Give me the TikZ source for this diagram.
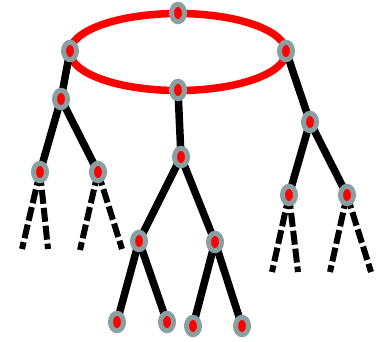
\documentclass[tikz,border=0pt]{standalone}
\usetikzlibrary{shapes.geometric,backgrounds}
\definecolor{nodegray}{RGB}{138,160,160}
\definecolor{ringred}{RGB}{255,0,0}
\tikzset{
  vert/.style={ellipse,fill=ringred,draw=nodegray,line width=5pt,minimum width=13pt,minimum height=17.5pt,inner sep=0pt},
  solidedge/.style={line width=7.5pt,black},
  dashedge/.style={line width=6pt,black,dash pattern=on 14pt off 4pt},
  ring/.style={line width=7.5pt,ringred}
}
\begin{document}
\begin{tikzpicture}[x=1pt,y=-1pt]
\useasboundingbox (0,0) rectangle (382,341);
% ring nodes
\coordinate (c) at (178,52);
\node[vert] (t) at (178,13) {};
\node[vert] (l) at (70,51) {};
\node[vert] (r) at (286,51) {};
\node[vert] (b) at (178,90) {};
% left subtree
\node[vert] (l1) at (61,99) {};
\node[vert] (l2a) at (40,172) {};
\node[vert] (l2b) at (98,172) {};
\coordinate (la1) at (22,249);
\coordinate (la2) at (48,249);
\coordinate (lb1) at (80,250);
\coordinate (lb2) at (122,249);
% middle subtree
\node[vert] (m1) at (181,157) {};
\node[vert] (m2a) at (139,241) {};
\node[vert] (m2b) at (215,242) {};
\node[vert] (m3a) at (117,322) {};
\node[vert] (m3b) at (167,322) {};
\node[vert] (m3c) at (193,326) {};
\node[vert] (m3d) at (242,326) {};
% right subtree
\node[vert] (r1) at (310,122) {};
\node[vert] (r2a) at (289,195) {};
\node[vert] (r2b) at (347,195) {};
\coordinate (ra1) at (272,272);
\coordinate (ra2) at (298,272);
\coordinate (rb1) at (330,272);
\coordinate (rb2) at (371,272);
\begin{pgfonlayer}{background}
\draw[ring] (c) ellipse [x radius=108, y radius=38.5];
\draw[solidedge] (l.center) -- (l1.center);
\draw[solidedge] (l1.center) -- (l2a.center);
\draw[solidedge] (l1.center) -- (l2b.center);
\draw[dashedge] (l2a.center) -- (la1);
\draw[dashedge] (l2a.center) -- (la2);
\draw[dashedge] (l2b.center) -- (lb1);
\draw[dashedge] (l2b.center) -- (lb2);
\draw[solidedge] (b.center) -- (m1.center);
\draw[solidedge] (m1.center) -- (m2a.center);
\draw[solidedge] (m1.center) -- (m2b.center);
\draw[solidedge] (m2a.center) -- (m3a.center);
\draw[solidedge] (m2a.center) -- (m3b.center);
\draw[solidedge] (m2b.center) -- (m3c.center);
\draw[solidedge] (m2b.center) -- (m3d.center);
\draw[solidedge] (r.center) -- (r1.center);
\draw[solidedge] (r1.center) -- (r2a.center);
\draw[solidedge] (r1.center) -- (r2b.center);
\draw[dashedge] (r2a.center) -- (ra1);
\draw[dashedge] (r2a.center) -- (ra2);
\draw[dashedge] (r2b.center) -- (rb1);
\draw[dashedge] (r2b.center) -- (rb2);
\end{pgfonlayer}
\end{tikzpicture}
\end{document}
